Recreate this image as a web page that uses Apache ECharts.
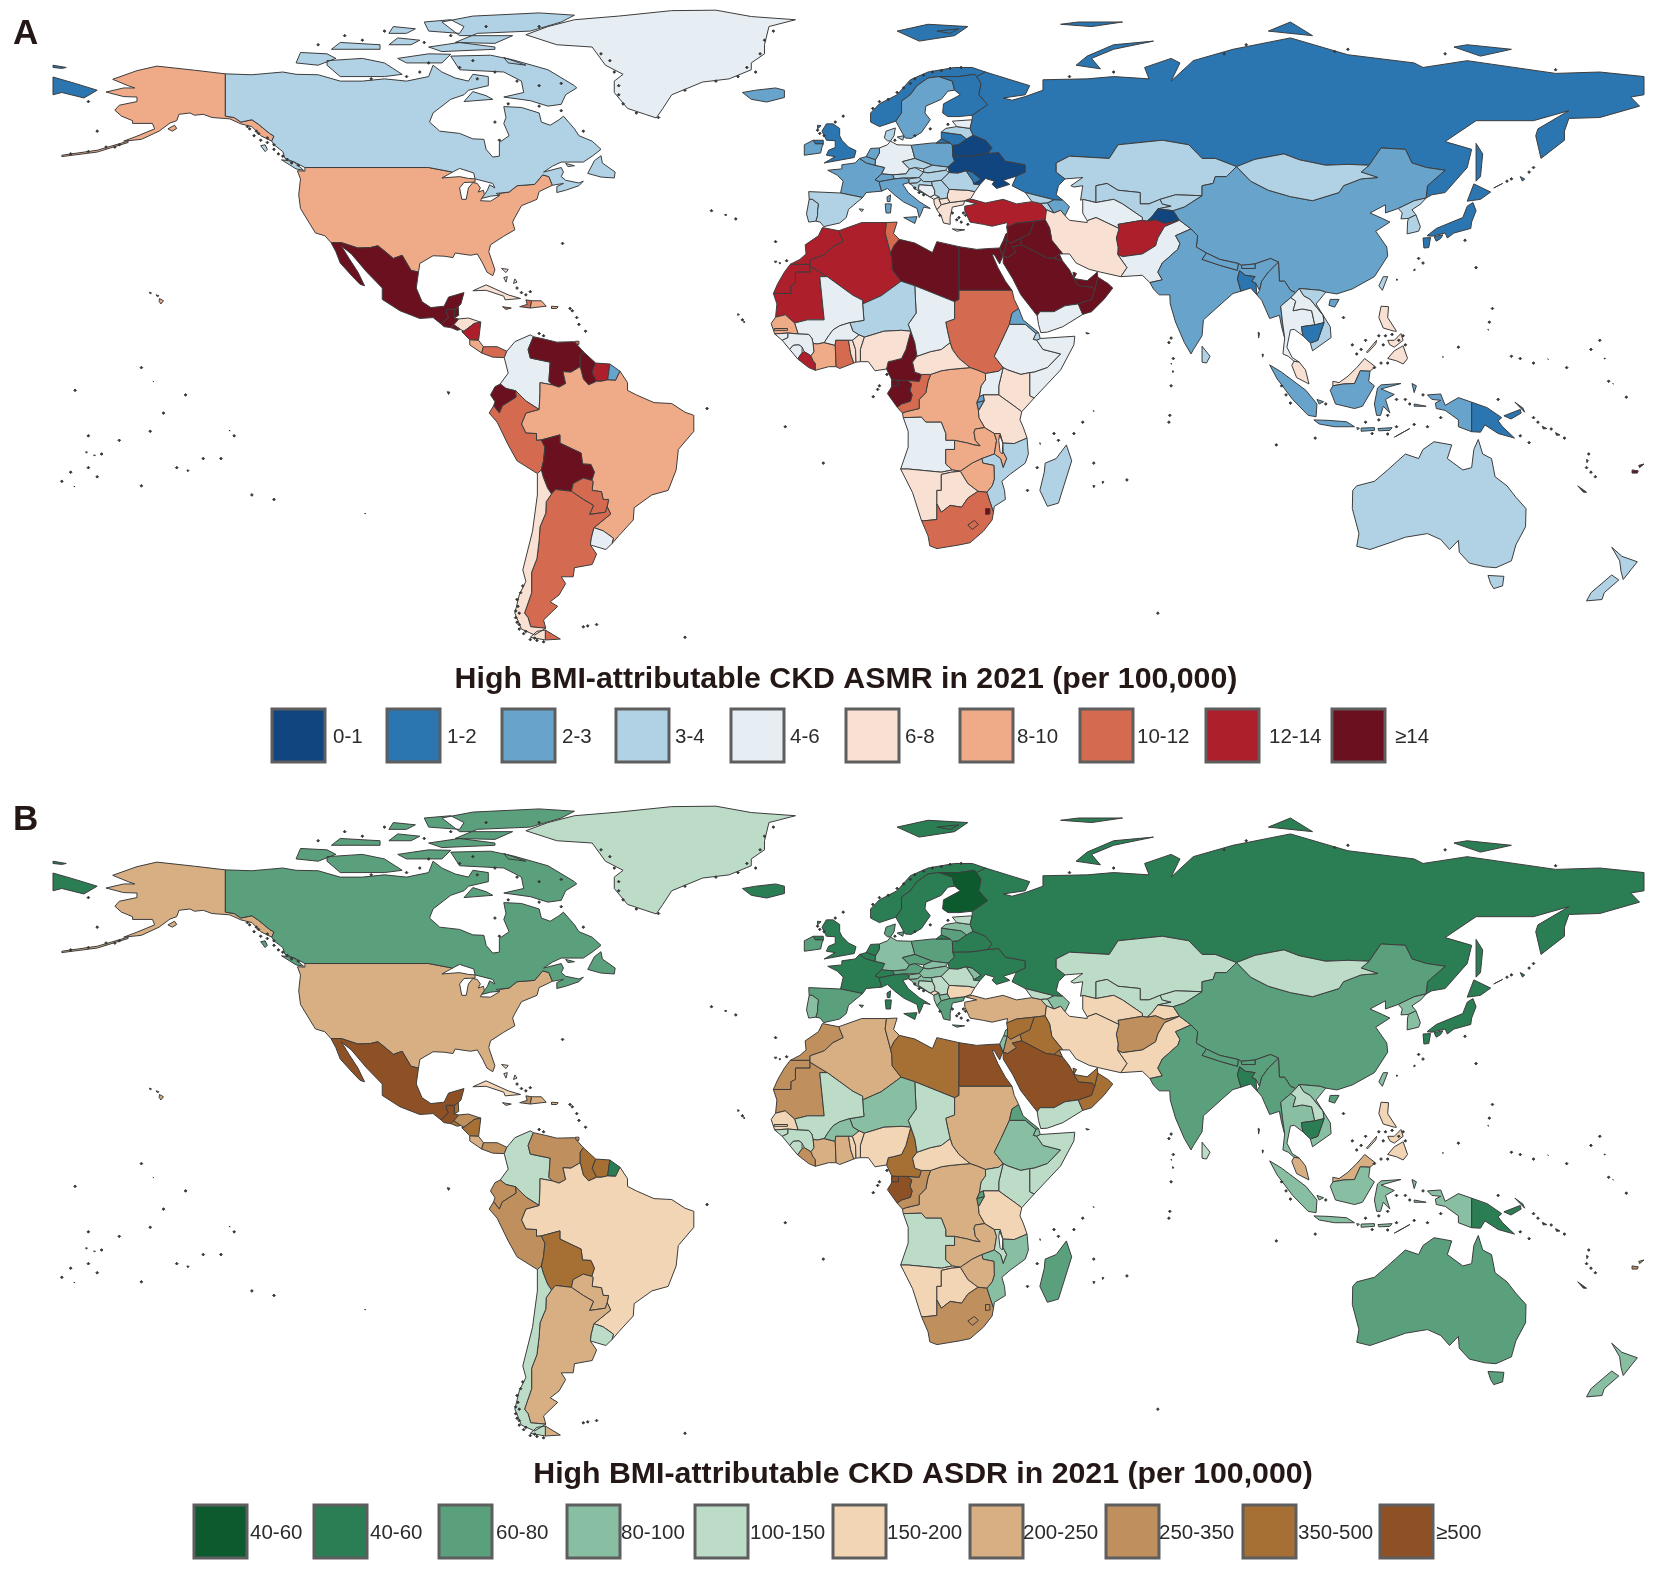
<!DOCTYPE html>
<html>
<head>
<meta charset="utf-8">
<title>High BMI-attributable CKD</title>
<script src="https://cdn.jsdelivr.net/npm/echarts@6/dist/echarts.min.js"></script>
<style>
html,body{margin:0;padding:0;background:#fff}
#chart{width:1654px;height:1571px}
</style>
</head>
<body>
<div id="chart"></div>
<script>
// country list, same order in both class arrays below
var countries = [
	"United States","Canada","Greenland","Mexico","Guatemala","Belize","Honduras","El Salvador","Nicaragua","Costa Rica","Panama","Cuba","Haiti","Dominican Republic","Jamaica","Puerto Rico","Bahamas","Trinidad and Tobago",
	"Colombia","Venezuela","Guyana","Suriname","French Guiana","Brazil","Ecuador","Peru","Bolivia","Paraguay","Argentina","Uruguay","Chile",
	"Iceland","Norway","Sweden","Finland","Denmark","United Kingdom","Ireland","France","Spain","Portugal","Germany","Netherlands","Belgium","Switzerland","Austria","Italy","Poland","Czechia","Slovakia","Hungary","Slovenia","Croatia","Bosnia","Serbia","Montenegro","Albania","North Macedonia","Greece","Bulgaria","Romania","Moldova","Ukraine","Belarus","Lithuania","Latvia","Estonia","Russia",
	"Turkey","Georgia","Armenia","Azerbaijan","Kazakhstan","Uzbekistan","Turkmenistan","Kyrgyzstan","Tajikistan","Afghanistan","Pakistan","Iran","Iraq","Syria","Lebanon","Israel","Jordan","Saudi Arabia","Yemen","Oman","UAE","Kuwait","Qatar",
	"China","Mongolia","North Korea","South Korea","Japan","Taiwan","India","Nepal","Bhutan","Bangladesh","Sri Lanka","Myanmar","Thailand","Laos","Vietnam","Cambodia","Malaysia","Indonesia","Philippines","Papua New Guinea","Australia","New Zealand","Fiji",
	"Morocco","Western Sahara","Mauritania","Algeria","Tunisia","Libya","Egypt","Sudan","Eritrea","Djibouti","Ethiopia","Somalia","Kenya","Uganda","Tanzania","Rwanda","Burundi","DR Congo","Congo","Gabon","Equatorial Guinea","Cameroon","Central African Republic","Chad","Niger","Mali","Senegal","Gambia","Guinea-Bissau","Guinea","Sierra Leone","Liberia","Cote d'Ivoire","Burkina Faso","Ghana","Togo","Benin","Nigeria","Angola","Zambia","Malawi","Mozambique","Zimbabwe","Namibia","Botswana","South Africa","Lesotho","Eswatini","Madagascar"
];

// legend class of each country
var asmrClass = [
	6,3,4,9,9,9,5,9,8,6,7,5,7,6,7,6,5,7,
	4,9,9,8,2,6,9,7,9,7,7,4,5,
	2,1,2,1,3,1,2,2,3,3,4,2,2,2,3,2,2,3,3,3,3,3,4,3,4,5,5,5,5,3,1,0,0,1,3,4,1,
	8,3,3,2,3,3,4,3,0,8,4,5,9,9,9,9,9,9,4,9,9,9,9,
	2,3,3,3,1,3,2,2,2,1,3,2,4,4,3,1,5,2,5,1,3,3,9,
	8,8,8,8,7,9,9,7,2,3,4,4,5,4,5,2,2,6,7,9,9,9,5,4,3,4,6,6,4,4,4,8,6,4,7,5,5,5,4,6,6,3,6,5,5,7,7,9,3
];

// legend class of each country
var asdrClass = [
	6,2,4,9,9,8,7,8,8,6,7,5,7,6,6,6,5,7,
	4,7,8,8,1,5,7,7,8,6,6,4,4,
	1,1,1,0,2,1,2,1,2,3,3,1,1,1,2,1,2,2,3,3,3,3,4,4,5,3,3,2,5,4,3,1,1,2,3,4,1,
	6,4,4,3,4,4,5,4,5,7,5,5,8,8,3,3,7,9,4,8,8,8,8,
	2,4,3,3,1,3,2,2,2,1,4,2,3,4,3,1,6,3,5,1,2,3,7,
	7,7,7,6,6,8,9,6,2,3,3,4,4,4,5,2,2,6,7,9,9,8,5,4,3,4,5,5,4,4,4,7,6,3,6,5,5,5,4,6,4,3,6,5,5,7,7,7,2
];

var asmrLabels = ["0-1","1-2","2-3","3-4","4-6","6-8","8-10","10-12","12-14","≥14"];
var asdrLabels = ["40-60","40-60","60-80","80-100","100-150","150-200","200-250","250-350","350-500","≥500"];
var asmrColors = ["#11457f","#2b75b0","#67a3ca","#b1d2e5","#e6eef3","#f8e0d3","#efaa88","#d46a50","#ae1f2c","#6a101f"];
var asdrColors = ["#0c5a2e","#2b7d54","#5aa07c","#88bea1","#bddcc8","#f2d5b4","#d7af82","#bf8f5d","#a66f34","#8d5125"];
var speckColor = "#333333";

// hand traced outlines, lon,lat pairs
var outlines = {
	"United States": ["-123,49 -95,49 -89.6,48 -92,46.7 -88,47 -86,46.6 -84.5,46.5 -84.5,45.8 -87,45.7 -88,44.5 -87.5,42 -86.5,42 -86,44.5 -85,45.7 -84,45.5 -83.3,44.5 -83.8,43.6 -82.6,44 -82.4,43 -83,42.2 -83.3,41.7 -81,41.6 -79,42.8 -79,43.3 -76.8,43.6 -75,45 -71,45.3 -69.2,47.4 -67.8,47 -67,45.1 -70,43.7 -70.5,42 -74,40.6 -75.5,38 -76,37 -75.5,35.3 -78,33.9 -81,32 -81.4,30.5 -80,26.5 -80.5,25.2 -81.8,26 -82.8,28 -84,30 -85.5,29.7 -89,30.2 -89.5,29.2 -91.5,29.5 -94,29.6 -97,27.9 -97.3,26 -99,26.4 -101,29.7 -103,29 -104.8,30.5 -106.5,31.8 -108.2,31.4 -111,31.3 -114.8,32.5 -117.1,32.5 -118.5,34 -120.6,34.6 -122,36.8 -124,40 -124.4,43 -124,46.5 -124.7,48.3 -123,48.2",
		"-141,69.6 -148,70.4 -156.5,71.3 -161,70.3 -166.5,68.4 -163,67 -161.5,66.5 -164,66.5 -168,65.6 -164,64.6 -161,64.5 -161,63.5 -165,62.7 -166,61.6 -164.5,60.3 -162,59.3 -162,58.7 -157.5,58.7 -157,57.5 -161,55.9 -164,54.8 -160,55.2 -156,57 -153.5,58.8 -152,59.3 -151.5,60.7 -149,61 -148,60.5 -146,60.7 -144,60 -140,59.7 -137.5,58.6 -135,58 -133,56 -130.5,54.8 -130,55.9 -131,56.5 -133.5,58.5 -135,59.5 -137.5,59 -139,60 -141,60.3",
		"-163,54.8 -170,52.8 -178,51.7 -178,51.4 -170,52.4 -163,54.5","-152.5,58.3 -154,57.5 -153,57 -152,57.6","-155.9,20.2 -155,19.7 -155.6,19 -156,19.6","-158.2,21.6 -157.7,21.4 -158,21.2","-156.7,21 -156,20.8 -156.4,20.6"],
	"Canada": ["-141,69.6 -135,69.4 -128,70 -125,69.5 -120,69.4 -115,68 -110,68 -105,68.5 -100,68 -95,69 -94,71.5 -92,70 -89,68.7 -86,68 -85,69.5 -81.5,69 -81.5,67 -86,66 -87,65 -90,64 -94,61 -94.8,59 -92.5,57 -88,56.5 -85,55.3 -82.5,55.2 -82,53 -80.5,51.3 -79,51.5 -79,54.5 -76.8,56 -78,58.7 -77.5,60 -78,62.4 -74,62.2 -70,61 -69.5,59 -67.5,58.3 -65.5,59.5 -64.5,60.3 -62,57.5 -61,56 -58,54.8 -56,53 -58,51.5 -60,50.2 -65,50.2 -67,49.3 -69,48 -65,49 -64.5,48 -65,47 -64,46.2 -61,45.6 -60,46 -61,45 -64,44 -66,43.5 -66,44.8 -64.5,45.5 -67,45.1 -67.8,47 -69.2,47.4 -71,45.3 -75,45 -76.8,43.6 -79.7,43.3 -79,42.9 -81,42.7 -83,42.2 -82.4,43 -81.7,44 -81.2,45.2 -80,44.5 -80.5,45.5 -84.5,46.5 -84.8,47.8 -88,48.8 -89.6,48 -95,49 -123,49 -125,50 -127.5,51 -128,52.5 -130,54 -130.5,54.8 -130,55.9 -131,56.5 -133.5,58.5 -135,59.5 -137.5,59 -139,60 -141,60.3",
		"-123.3,48.4 -125,48.7 -128.3,50.7 -125.5,50.3","-132,54 -131.5,53 -132,52.5 -133,53.8","-61.5,66.5 -64,65 -65,62.9 -68,62.5 -72,63.7 -78,64.5 -73.5,65.5 -74,68 -78,70 -88,70.5 -90,73.5 -81,73.7 -76,72.7 -68,70.5 -62,67",
		"-105,69 -115,69 -118,71.5 -118,72.5 -110,73 -105,72 -101,69.5","-116,73 -120,71.5 -125,72 -124,74.3 -118,74","-62,82.5 -70,83 -85,82.3 -92,81 -88,78 -76,78 -80,76.3 -89,76.5 -84,78.5 -72,79 -65,81","-80,75 -92,74.5 -95,75.5 -88,76.5 -80,75.5","-106,75 -117,75 -115,76.5 -106,76","-88,78.5 -95,79 -96,81 -90,81.5 -87,80","-92,72 -100,72 -102,73 -95,74 -90,73.9","-80.5,64 -87,63.5 -85,65.7 -82,64.8","-59,47.7 -56,46.9 -53,46.7 -52.8,48 -55.7,50 -56,51.6 -57.5,50.5","-99,76 -104,76 -102,77.5 -97,77","-100,78.5 -104,78.5 -103,80 -98,79.5","-64,49.9 -62,49.4 -63.5,49.2","-78,73.2 -73,71.5 -77,72"],
	"Greenland": ["-73,78.2 -68,80 -62,81.5 -52,82.3 -40,83.5 -30,83.6 -22,82.2 -12,81.5 -18,80 -19,76 -19,74 -22,72 -22,70.5 -27,68.5 -33,67.8 -40,65 -42,62 -43.5,59.9 -46,60.7 -50,62 -53,65.5 -53,68 -51,69.5 -55,71.5 -58,75.5 -66,76"],
	"Mexico": ["-117.1,32.5 -114.8,32.5 -111,31.3 -108.2,31.4 -106.5,31.8 -104.8,30.5 -103,29 -101,29.7 -99,26.4 -97.3,26 -97.8,22.5 -96.5,19.5 -94.5,18.2 -91.5,18.5 -90.5,20.5 -87,21.5 -87.7,19 -88.3,18.4 -89.15,17.8 -90.98,17.8 -91,17.25 -90.5,16.1 -92.2,14.6 -94,16 -97,15.8 -101.5,17.5 -105.5,20 -105.5,22.5 -109,26 -112.5,30 -114.7,31.7 -113,29 -111,26 -109.5,23 -110.5,23.3 -112.2,25 -115,28 -116,30.5"],
	"Guatemala": ["-92.2,14.6 -90.5,16.1 -91,17.25 -90.98,17.8 -89.15,17.8 -89.2,15.9 -88.2,15.7 -89.3,14.4 -90,13.8 -91.5,14"],
	"Belize": ["-89.15,17.8 -88.3,18.4 -88.2,16.5 -89.2,15.9"],
	"Honduras": ["-88.2,15.7 -86,15.9 -83.2,15 -84.7,14.7 -87,13 -87.8,13.4 -89.3,14.4"],
	"El Salvador": ["-90,13.8 -89.3,14.4 -87.8,13.4 -88.5,13.2"],
	"Nicaragua": ["-83.2,15 -83.7,11 -85.7,11.1 -87.5,12.9 -87,13 -84.7,14.7"],
	"Costa Rica": ["-83.7,11 -82.6,9.6 -83,8.2 -85.7,10 -85.7,11.1"],
	"Panama": ["-82.6,9.6 -79.5,9.6 -77.3,8.6 -77.9,7.2 -80.5,7.3 -83,8.2"],
	"Cuba": ["-85,21.9 -82,23.2 -77,21 -74.2,20.2 -77.7,19.9 -78,20.7 -82,22"],
	"Haiti": ["-74.4,18.4 -72,18.1 -71.7,19.7 -73,19.9 -72.7,18.9"],
	"Dominican Republic": ["-71.7,19.7 -72,18.1 -68.4,18.5 -69.5,19.7"],
	"Jamaica": ["-78.3,18.4 -76.3,18.1 -77.5,17.8"],
	"Puerto Rico": ["-67.2,18.5 -65.7,18.4 -66,18 -67.2,18"],
	"Bahamas": ["-78.5,26.8 -77,26.6 -77.5,25.9","-78,24.8 -77.2,25 -77.5,23.8","-75.5,24.5 -75,23.8 -75.8,23.5"],
	"Trinidad and Tobago": ["-61.8,10.8 -61,10.8 -61,10.1 -61.8,10.1"],
	"Colombia": ["-77.3,8.6 -75.5,10.7 -72,12.2 -71.3,11.8 -72.5,9 -72,7.1 -67.5,6.2 -67.8,2 -67,1.2 -69.8,1.7 -69.8,-0.5 -70,-4.2 -72.9,-2.4 -75.3,-0.1 -77.5,0.4 -78.8,1.4 -77,3.8 -77.9,7.2"],
	"Venezuela": ["-71.3,11.8 -68.5,11.2 -66,10.6 -62,10.7 -60,8.5 -60.7,7.5 -60.7,5.2 -62.8,4 -64.6,4.1 -64,1.5 -65.5,0.7 -67,1.2 -67.8,2 -67.5,6.2 -72,7.1 -72.5,9"],
	"Guyana": ["-60,8.5 -57.2,6 -58,4 -57,2 -58.8,1.2 -60,2.5 -60.7,5.2 -60.7,7.5"],
	"Suriname": ["-57.2,6 -54,5.8 -54.5,2.3 -56,2 -57,2 -58,4"],
	"French Guiana": ["-54,5.8 -51.7,4.2 -52.7,2.2 -54.5,2.3"],
	"Brazil": ["-51.7,4.2 -50,1.7 -50,0 -48,-1 -44,-2.7 -40,-2.9 -37,-4.8 -35,-5.5 -35,-9 -38.5,-13 -39,-17.5 -40.8,-22 -44.5,-23 -48.5,-25.8 -48.7,-28.5 -52,-32 -53.5,-33.7 -53.2,-32.5 -55.5,-30.9 -57.6,-30.2 -53.8,-27.2 -54.6,-25.6 -54.3,-24 -55.5,-24 -55.9,-22.3 -58,-22 -57.8,-20 -58.1,-19.8 -57.5,-18 -58.3,-16.3 -60.2,-16.2 -60.5,-13.8 -65.3,-11.6 -65.3,-9.8 -69.5,-10.9 -70.6,-11 -70.6,-9.5 -73,-9.4 -74,-7.4 -73,-5 -70,-4.2 -69.8,-0.5 -69.8,1.7 -67,1.2 -65.5,0.7 -64,1.5 -64.6,4.1 -62.8,4 -60.7,5.2 -60,2.5 -58.8,1.2 -57,2 -56,2 -54.5,2.3 -52.7,2.2"],
	"Ecuador": ["-78.8,1.4 -77.5,0.4 -75.3,-0.1 -75.2,-1.5 -78.3,-3.4 -79,-5 -80.3,-3.4 -80,-2.5 -81,-1 -80,0.8"],
	"Peru": ["-80.3,-3.4 -79,-5 -78.3,-3.4 -75.2,-1.5 -75.3,-0.1 -72.9,-2.4 -70,-4.2 -73,-5 -74,-7.4 -73,-9.4 -70.6,-9.5 -70.6,-11 -69.5,-10.9 -68.7,-12.5 -69,-15.5 -69.5,-17.5 -70.4,-18.3 -75,-15.5 -77,-12 -79.5,-7 -81.3,-5"],
	"Bolivia": ["-69.5,-10.9 -65.3,-9.8 -65.3,-11.6 -60.5,-13.8 -60.2,-16.2 -58.3,-16.3 -57.5,-18 -58.1,-19.8 -60,-19.3 -62.3,-20.5 -62.7,-22.2 -64.5,-22 -66.3,-21.8 -67.2,-22.8 -68.1,-21.5 -69.1,-19 -69.5,-17.5 -69,-15.5 -68.7,-12.5"],
	"Paraguay": ["-58.1,-19.8 -57.8,-20 -58,-22 -55.9,-22.3 -55.5,-24 -54.3,-24 -54.6,-25.6 -55,-26.8 -58.6,-27.3 -57.7,-25.3 -60,-24 -62.7,-22.2 -62.3,-20.5 -60,-19.3"],
	"Argentina": ["-66.3,-21.8 -64.5,-22 -62.7,-22.2 -60,-24 -57.7,-25.3 -58.6,-27.3 -55,-26.8 -54.6,-25.6 -53.8,-27.2 -57.6,-30.2 -58.2,-32.5 -58.4,-34 -57,-36 -58,-38.3 -62,-39 -62.3,-41 -65,-41 -64,-42.5 -65.5,-45 -67.5,-46.5 -65.8,-47.5 -69,-50.5 -68.5,-52.3 -71.9,-52 -72.5,-50 -73.3,-49 -71.7,-44.5 -71.7,-40 -70.5,-37 -70,-33 -69.8,-30 -68.5,-27 -68.4,-24.5 -67.2,-22.8",
		"-68.6,-52.7 -65.2,-54.7 -68.6,-54.9"],
	"Uruguay": ["-57.6,-30.2 -55.5,-30.9 -53.2,-32.5 -53.5,-33.7 -54.9,-35 -58.4,-34 -58.2,-32.5"],
	"Chile": ["-69.5,-17.5 -69.1,-19 -68.1,-21.5 -67.2,-22.8 -68.4,-24.5 -68.5,-27 -69.8,-30 -70,-33 -70.5,-37 -71.7,-40 -71.7,-44.5 -73.3,-49 -72.5,-50 -71.9,-52 -68.5,-52.3 -71,-53.8 -74,-52.5 -75.5,-49 -74.5,-45 -73,-42 -73.7,-39.5 -71.5,-31 -70.4,-23 -70.4,-18.3",
		"-68.6,-52.7 -68.6,-54.9 -72,-54.3 -70.5,-53"],
	"Iceland": ["-24,65.5 -22,64 -18.5,63.4 -14.5,64.4 -14.5,66 -16.5,66.5 -21,66"],
	"Norway": ["5,59 7,58 10.7,59.2 12,61 12,63.6 14,65 15.5,67 18,68.7 20.5,69 25,69 28.5,69.5 29,69 31,70 28,71 24,71 18,70 14,68.3 11,65 7,63 5,61",
		"11,79 16,76.8 24,78 27,80 18,80.5","20,79 23,78.5 25,79.5"],
	"Sweden": ["10.7,59.2 12.8,55.5 14.2,55.4 16.5,56.7 18.5,59.5 17.3,61 17.5,62.5 21,64 22.5,65.8 24,66 23.5,68 20.5,69 18,68.7 15.5,67 14,65 12,63.6 12,61"],
	"Finland": ["22.5,60.2 25,60.2 28,60.5 31.5,62.8 29.5,65 30,67.5 29,69 28.5,69.5 25,69 20.5,69 23.5,68 24,66 25.3,65 21.5,63 21.3,61"],
	"Denmark": ["8.1,55.5 8.5,57 10.6,57.7 10.3,56 9.5,54.8 8.8,54.9","11,55.7 12.5,56 12.3,55"],
	"United Kingdom": ["-5.5,50 1.3,51.2 1.7,52.7 0,53.5 -1.5,55 -2,56 -2,57.6 -3.5,58.6 -5,58.6 -6,57 -5,55 -3,54.9 -3,53.4 -4.5,52.8 -5,51.7 -3,51.4","-8,55 -5.7,55 -5.7,54.2 -7.5,54.2","-7,58.3 -6.2,58.2 -7,57.5"],
	"Ireland": ["-10,51.7 -6.3,52.2 -6,53.5 -5.7,54.2 -7.5,54.2 -8,55 -8.2,55.2 -10,54"],
	"France": ["-1.8,43.4 3.2,42.4 4,43.5 7.5,43.8 7,45.5 7,45.9 6,46.3 7.5,47.6 8.2,49 6,49.5 4,50 2.5,51 1.5,50 -1.5,49.6 -1.5,48.7 -4.7,48.4 -2.5,47.3 -1.2,46","8.7,42.5 9.5,43 9.4,41.5 8.8,41.5"],
	"Spain": ["-9,43.7 -1.8,43.4 3.2,42.4 0,39.8 -0.5,38 -2,36.8 -5.6,36 -6.4,37 -7.4,37.2 -7,38.5 -7,39.7 -6.8,41 -8.2,42 -8.9,42","2.4,39.9 3.4,39.8 3,39.3"],
	"Portugal": ["-8.9,42 -8.2,42 -6.8,41 -7,39.7 -7,38.5 -7.4,37.2 -9,37 -9.5,38.8"],
	"Germany": ["7,53.3 7,52.2 6.1,50.7 6,49.5 8.2,49 7.5,47.6 10,47.4 13,47.6 13.8,48.7 12.2,50.3 15,51 14.6,52.5 14.2,53.9 11,54 9.5,54.8 8.8,54"],
	"Netherlands": ["4,51.4 6.1,50.7 7,52.2 7,53.3 5,53.2"],
	"Belgium": ["2.5,51 4,50 6,49.5 6.1,50.7 4,51.4"],
	"Switzerland": ["6,46.3 7,45.9 10.4,46.5 10,47.4 7.5,47.6"],
	"Austria": ["10,47.4 10.4,46.5 12.5,46.7 16,46.8 17,48 15,49 13.8,48.7 13,47.6"],
	"Italy": ["7.5,43.8 8.8,44.4 10.5,42.9 12.5,41.4 15.5,40 16,38 16.5,39 17,40.3 18.5,40 16,41.5 13.5,43.5 12.3,45.3 13.7,45.7 13.7,46.5 12.5,46.7 10.4,46.5 7,45.9 7,45.5","12.5,38 15.5,38.2 15,36.7","8.3,41 9.7,41 9.5,39 8.5,39"],
	"Poland": ["14.2,53.9 19,54.4 23,54.4 23.5,53.9 23.6,51.5 24,50.4 22.5,49.1 19,49.5 15,51 14.6,52.5"],
	"Czechia": ["12.2,50.3 15,51 19,49.5 17,48.7 15,49 13.8,48.7"],
	"Slovakia": ["17,48.7 19,49.5 22.5,49.1 22,48.4 18,47.8 17,48"],
	"Hungary": ["16,46.8 17,48 18,47.8 22,48.4 22.8,47.9 21,46.2 18.8,45.9 17,45.9 16.5,46.3"],
	"Slovenia": ["13.7,45.5 13.7,46.5 16,46.8 16.5,46.3 15.5,45.6"],
	"Croatia": ["13.7,45.5 15.5,45.6 16.5,46.3 17,45.9 18.8,45.9 19,45 16,45.2 15.8,44.2 18.5,42.5 15,44.3 14.3,45.2"],
	"Bosnia": ["16,45.2 19,45 19.5,44 19.5,43 18.5,42.5 15.8,44.2"],
	"Serbia": ["18.8,45.9 21,46.2 22.8,44.2 22.4,43 22.4,42.3 20.5,42 20.5,42.5 19.5,43 19.5,44 19,45"],
	"Montenegro": ["18.5,42.5 19.5,43 20.5,42.5 19.3,42"],
	"Albania": ["19.3,42 20.5,42.5 20.5,42 21,40.8 20,39.7 19.4,41"],
	"North Macedonia": ["20.5,42 22.4,42.3 23,41.3 21,40.8"],
	"Greece": ["20,39.7 21,40.8 23,41.3 26.3,41.7 26,40.8 23.5,40.3 23,38 23,36.5 21.5,36.8 21,38.3","23.5,35.5 26.3,35.3 24.5,35"],
	"Bulgaria": ["22.4,42.3 22.4,43 22.8,44.2 27,44 28.6,43.7 27.7,42.2 26.3,41.7 23,41.3"],
	"Romania": ["21,46.2 22.8,47.9 24.8,47.8 26.6,48.3 28.2,46 28.3,45.4 29.7,45.2 28.6,43.7 27,44 22.8,44.2"],
	"Moldova": ["26.6,48.3 28,48 30,46.4 28.3,45.4 28.2,46"],
	"Ukraine": ["22.5,49.1 22.8,47.9 24.8,47.8 26.6,48.3 28,48 30,46.4 28.3,45.4 29.7,45.2 31,46.6 33,46 32.5,45.3 33.5,44.4 36.5,45.3 35,46.2 38,47.1 40,48 40,49.6 35.5,50.4 34,52.3 31.5,52.1 28,51.6 23.6,51.5 24,50.4"],
	"Belarus": ["24.8,54 26.7,55.3 28.2,56.1 31,55 32.5,53.3 31.5,52.1 28,51.6 23.6,51.5 23.5,53.9"],
	"Lithuania": ["21,56.8 25.5,56.2 26.7,55.3 24.8,54 23.5,53.9 23,54.4 21,55.3"],
	"Latvia": ["21,56.8 22,57.6 24.5,58 27.5,57.6 28.2,56.1 26.7,55.3 25.5,56.2"],
	"Estonia": ["23.5,59.2 28,59.5 27.5,57.6 24.5,58"],
	"Russia": ["28,60.5 31.5,62.8 29.5,65 30,67.5 29,69 31,70 33,69.4 41,67 40,65 35,64.3 37,63.8 40,64.6 44,66 44,68.3 54,68.5 60,69 68,68.5 67,71 73,73 75,72 73,68 78,72.5 87,75 100,77.5 113,73.8 128,72 130,71 140,72.5 160,69.7 170,70 180,69 180,65 177,64.5 179,62.5 170,60 163,59.8 162,57 162,55 156.7,51 155.5,56 156,57.5 163,61.5 155,59.3 142,59.3 135,54.7 141,53 140,49 135,43.5 132,43 130.7,42.3 131,45 135,48.4 130.8,49 127.5,50 126,53 120.5,53.3 117.8,49.5 113,49.7 108,49.5 102,50.7 98.5,52 92,50.8 87.8,49.2 83,51 80,51 77,54 71,55 61,54 59,51 50,51.5 47,50 47,48 49,46.5 47.5,45 47,43 48.5,41.8 46.5,41.9 40,43.5 37,45 38,47.1 40,48 40,49.6 35.5,50.4 34,52.3 31.5,52.1 32.5,53.3 31,55 28.2,56.1 27.5,57.6 28,59.5",
		"-180,68.9 -175,67.5 -170,66 -173,64.3 -178,65.5 -180,65","19.8,54.4 23,54.4 21,55.3","51.5,71.5 57,70.7 55,73 60,75 69,76.8 60,76 54,73.5","142,54.3 143.5,52 143,47 142,46 142,50","95,79 105,78 100,81","137,75.5 143,73.5 150,75 140,76","48,80.5 55,80 62,81 52,81","-180,71.5 -177,71 -178,70.8 -180,71",
		"146,44.5 148,45.5 147,45","152,47 153,46.5 152.5,46"],
	"Turkey": ["26.3,41.7 28,42 31,41.2 35,42 38,41 41.5,41.5 43.5,41.1 44.8,39.7 44.5,37.5 42,37.2 38,36.8 35.8,35.9 36,36.9 32.5,36.1 30.5,36.5 27.5,37 26.3,39.5 26.3,40.5 29,41"],
	"Georgia": ["40,43.5 46.5,41.9 45,41.2 43.5,41.1 41.5,41.5"],
	"Armenia": ["43.5,41.1 45,41.2 46.5,39 44.8,39.7"],
	"Azerbaijan": ["46.5,41.9 48.5,41.8 50,40.4 49,38.4 48,39.6 46.5,39 45,41.2"],
	"Kazakhstan": ["47,50 50,51.5 59,51 61,54 71,55 77,54 80,51 83,51 87.8,49.2 85.5,47 83,47 82.5,45.5 80,45 80,42.8 74,43 70.5,42 68,41 66,41 66,43.5 61,44 58.5,45.5 56,45 56,41.3 53,42 52.5,41.8 53,45 51,44.7 50.3,45 53,46.8 49,46.5 47,48"],
	"Uzbekistan": ["56,45 58.5,45.5 61,44 66,43.5 66,41 68,41 70.5,42 71,41 73,40.5 70,39.9 68.5,38 67.5,37.2 66.5,37.4 66.5,38 62,41 60,42 56,41.3"],
	"Turkmenistan": ["53,42 56,41.3 60,42 62,41 66.5,38 66.5,37.4 61,36.5 61.2,35.6 56,38 54,37.3 53,39 53,41"],
	"Kyrgyzstan": ["70.5,42 74,43 80,42.8 76,40.3 73.5,39.5 70,39.9 73,40.5 71,41"],
	"Tajikistan": ["67.5,37.2 68.5,38 70,39.9 73.5,39.5 74.9,37.4 71.5,36.7 69.5,37.5"],
	"Afghanistan": ["61,36.5 66.5,37.4 67.5,37.2 69.5,37.5 71.5,36.7 74.9,37.4 71.5,36 70,33.5 69.5,31.8 66.5,30 62,29.4 60.9,29.9 61,31.4 60.6,33.5 61.2,35.6"],
	"Pakistan": ["60.9,29.9 62,29.4 66.5,30 69.5,31.8 70,33.5 71.5,36 74.9,37.4 77.5,35.5 74,34 75,32.3 74.5,31 71,28 70,26 71,24.3 68.2,23.7 66.5,25.3 61.6,25 63,27"],
	"Iran": ["44.8,39.7 46.5,39 48,39.6 49,38.4 50,37.4 54,36.9 54,37.3 56,38 61.2,35.6 60.6,33.5 61,31.4 60.9,29.9 63,27 61.6,25 57,26 54.5,26.6 51.5,28 50,30 48.5,30 46,33 45.5,35.7 44.5,37.5"],
	"Iraq": ["42,37.2 44.5,37.5 45.5,35.7 46,33 48.5,30 47.7,30 46.5,29 44.7,29.2 39.2,32 38.8,33.4 41,34.4"],
	"Syria": ["35.8,35.9 38,36.8 42,37.2 41,34.4 38.8,33.4 36.7,32.3 35.9,33 36,34.6"],
	"Lebanon": ["36,34.6 35.9,33 35.1,33.1 35.6,34.4"],
	"Israel": ["35.1,33.1 35.9,33 35.4,31 35,29.5 34.2,31.3"],
	"Jordan": ["35.9,33 36.7,32.3 38.8,33.4 39.2,32 37,31.5 38,30.5 36,29.2 35,29.5 35.4,31"],
	"Saudi Arabia": ["35,29.5 36,29.2 38,30.5 37,31.5 39.2,32 44.7,29.2 46.5,29 48.4,28.5 50,26.5 51,24.6 52,23 55.2,22.7 55.7,22 55,20 52,19 49,18.6 46.5,17.3 43.3,17.3 42.7,16.4 39,21 37.2,24.5 35,28"],
	"Yemen": ["42.7,16.4 43.3,17.3 46.5,17.3 49,18.6 52,19 53,16.7 48.5,14 45,12.8 43.5,12.7 43,14.5"],
	"Oman": ["52,19 55,20 55.7,22 56.4,24.9 58.7,23.5 59.8,22.5 57.8,20 55,17.3 53,16.7"],
	"UAE": ["51,24.6 54,24.1 56.3,26 56.4,24.9 55.7,22 55.2,22.7 52,23"],
	"Kuwait": ["47.7,30 48.4,28.5 46.5,29"],
	"Qatar": ["51,24.6 50.8,26 51.6,25.7"],
	"China": ["73.5,39.5 76,40.3 80,42.8 80,45 82.5,45.5 83,47 85.5,47 87.8,49.2 91,46 95,44 100,42.6 105,41.7 111,43.5 112,45 116,46.5 119.8,46.8 116,48 117.8,49.5 120.5,53.3 126,53 127.5,50 130.8,49 135,48.4 131,45 130.7,42.3 128,41.7 124.4,40 121.5,39 121.5,40.8 118,39 120.8,37.8 122.5,37 119.3,35 121.8,31.5 122,29.5 119,25 114,22.3 110.5,21.2 108,21.6 106.7,22 102,22.4 101.2,21.5 100,22 98.7,24 97.5,24 97.3,28.2 95.5,29 92,27.8 88.9,27.5 88.2,27.9 84,28.8 81,30.2 78.7,31.5 79,34 77.5,35.5 74.9,37.4",
		"109,20 111,20 110,18.3 108.7,18.7"],
	"Mongolia": ["87.8,49.2 92,50.8 98.5,52 102,50.7 108,49.5 113,49.7 117.8,49.5 116,48 119.8,46.8 116,46.5 112,45 111,43.5 105,41.7 100,42.6 95,44 91,46"],
	"North Korea": ["124.4,40 128,41.7 130.7,42.3 129.5,41 127.5,39.7 128.4,38.6 126.7,37.8 125,37.7 125.3,39"],
	"South Korea": ["126.7,37.8 128.4,38.6 129.4,36 129,35 126.4,34.4 126.5,37"],
	"Japan": ["130.9,34 133,35.6 136.5,37 139,38 140,40.5 141.3,41.3 142,39.5 141,37 140.8,35.6 137,34.6 135.5,33.5 135,34.6 132,33.9","140,41.6 141.5,45.4 145.3,43.6 143,42","130,33.5 131.7,33.6 131.3,31.4 130.2,31.3","132.5,33.8 134.5,34.2 134,33.4 133,32.8"],
	"Taiwan": ["121,25 122,25 120.8,22 120,23"],
	"India": ["68.2,23.7 71,24.3 70,26 71,28 74.5,31 75,32.3 74,34 77.5,35.5 79,34 78.7,31.5 81,30.2 80,28.8 84,27.5 88,26.4 88.2,27.9 88.9,27.5 89,26.8 92,26.8 92,27.8 95.5,29 97.3,28.2 95,26 93.5,24 93,22 92.2,23.5 91.2,24 92,25 89.8,25.3 88.5,26.3 88,24.5 88.8,21.8 87,21.3 85,19.6 80.3,15.5 80,12 78,8.9 77.5,8 76,10.5 74,15 72.8,19 72.7,21 70.3,21 69,22.3"],
	"Nepal": ["80,28.8 81,30.2 84,28.8 88.2,27.9 88,26.4 84,27.5"],
	"Bhutan": ["89,26.8 88.9,27.5 92,27.8 92,26.8"],
	"Bangladesh": ["88,24.5 88.5,26.3 89.8,25.3 92,25 91.2,24 92.2,23.5 92.4,21 91,22.5 88.8,21.8"],
	"Sri Lanka": ["80,9.7 81.8,7.5 81,6 80,6.2"],
	"Myanmar": ["92.4,21 93,22 93.5,24 95,26 97.3,28.2 97.5,24 98.7,24 100,22 101.2,21.5 100.1,20.4 97.8,18.5 98.2,15 98.7,11.5 98,14 97.5,16.5 95.3,15.8 94.3,18 93.5,19.8"],
	"Thailand": ["97.8,18.5 100.1,20.4 101.2,19.6 100.6,17.5 102.7,17.9 104.8,17.5 105.5,14.4 102.5,14 102.8,12 100.9,13.4 100,13.3 99.2,9.5 100.4,7.2 102,6.2 100.8,6.4 99.5,7.5 98.3,8 98.7,11.5 98.2,15"],
	"Laos": ["100.1,20.4 101.2,21.5 102,22.4 103,20.8 104.5,20 107.4,16.5 107.6,14.9 105.5,14.4 104.8,17.5 102.7,17.9 100.6,17.5 101.2,19.6"],
	"Vietnam": ["102,22.4 106.7,22 108,21.6 105.8,19 109,14 109.2,11.6 105,8.7 104.5,10.4 106.2,11 107.6,14.9 107.4,16.5 104.5,20 103,20.8"],
	"Cambodia": ["102.8,12 102.5,14 105.5,14.4 107.6,14.9 106.2,11 104.5,10.4"],
	"Malaysia": ["100.8,6.4 102,6.2 103.4,4.5 104.2,1.4 101.4,2.8 100.3,5.5","109.6,2 111,1.7 113,3.1 115,5 116.8,7 119.2,5.2 118,4.2 115.8,4.3 114.5,1.5 112,1.4 109.6,1"],
	"Indonesia": ["109.6,1 112,1.4 114.5,1.5 115.8,4.3 118,4.2 117.7,2 119,1 116.3,-3.5 114.5,-4 110.2,-3 109,0","95.3,5.6 98,4 103.5,0 106,-3 105.8,-5.8 104,-5.5 100.5,-2 97,2.5","105.3,-6.5 108.5,-6.6 112.7,-6.9 114.5,-8 110,-8 106.5,-7.4","119.5,-5.5 119,-3 119.7,0.5 120.5,1.2 125,1.5 120.5,0.3 123.5,-0.9 121.5,-2 122.5,-5 121,-3.5 120.4,-5.5","116,-8.3 119,-8.2 119,-8.8 116,-9","119.8,-8.4 123,-8.2 122.5,-8.8 120,-8.9","123.5,-10.3 127,-8.4 125,-9.5","131,-1 134,-0.8 135,-3.3 138,-1.6 141,-2.6 141,-9.1 138,-8 138,-6.5 135,-4.4 133,-4 132.8,-2.8 134,-2.2 132,-2","127.5,1.5 128.5,1 128,-0.5","128,-3 130.7,-3.5 128,-3.5","115,-8.2 115.6,-8.3 115.2,-8.7","106,-2 107.5,-2.5 106.5,-3"],
	"Philippines": ["120.5,18.5 122.2,18.4 122,16 124,13 123.5,13 121,13.7 120,16","122,7 123.5,8.7 125.5,9.8 126.5,7 125.5,5.8 124,6.5","122,11 123.5,11 125,12.5 125.5,11 123.5,9.5 122.5,10","117.2,8.4 119.5,11 119.3,10.2 117.5,8.3"],
	"Papua New Guinea": ["141,-2.6 144.5,-3.8 147.8,-6 147,-6.7 148,-8 150.7,-10.5 147,-9.5 144,-7.6 143,-9.2 141,-9.1","148.3,-5.6 152,-4.2 152.2,-5 149.9,-6.3","150.8,-2.6 153,-4.8 152.6,-3.9"],
	"Australia": ["114.1,-22 114,-26 115.5,-31.5 115,-34.3 118,-35 124,-33 126,-32.3 131,-31.5 134,-32.8 136,-35 138,-33 138.2,-35.6 140.5,-38 144,-38.8 146.5,-39 150,-37.5 151,-34 153.2,-30 153.3,-26 151,-23.5 149,-21 146.3,-19 145.5,-15 143.5,-14 142.5,-10.8 141.5,-13 141,-17 139,-17.5 135.5,-15 136.5,-12 132.5,-11.3 130,-13 129,-15 126,-14 122,-17.5 119,-20 115,-21","144.7,-40.7 148.3,-40.9 148,-43 146,-43.6 145.3,-42.5"],
	"New Zealand": ["172.7,-34.5 175,-36.5 178.5,-37.7 177,-39.5 175.3,-41.6 174.8,-39.8 174.5,-37.5","172.7,-40.6 174.3,-41.7 171,-44.5 170.5,-46 167,-46.3 168,-44.5"],
	"Fiji": ["177.3,-17.5 178.7,-17.7 178.5,-18.2 177.3,-18.2","178.8,-16.5 180,-16.2 179,-17"],
	"Morocco": ["-5.9,35.8 -2.2,35.1 -1.2,32.7 -3.5,31.6 -5.5,29.8 -8.7,28.7 -8.7,27.7 -13.2,27.7 -11,28.8 -9.6,30 -9.8,32 -6.8,34"],
	"Western Sahara": ["-13.2,27.7 -8.7,27.7 -8.7,26 -12,26 -12,23.5 -13,23 -13,21.3 -17,21.3 -16,23.5 -14.5,26"],
	"Mauritania": ["-8.7,27.3 -4.8,25 -6.5,25 -5.5,15.5 -9.3,15.5 -12.2,14.8 -14.3,16.6 -16.5,16.1 -16.2,19 -17,21.3 -13,21.3 -13,23 -12,23.5 -12,26 -8.7,26"],
	"Algeria": ["-2.2,35.1 3,36.9 8.6,36.9 8.3,34.6 9.5,30.2 9.8,29 9.9,26.5 11.9,24 7.4,20.8 3.2,19 3.2,19.8 1,20.9 -4.8,25 -8.7,27.3 -8.7,28.7 -5.5,29.8 -3.5,31.6 -1.2,32.7"],
	"Tunisia": ["8.6,36.9 11,37 10.2,34.5 11.5,33.2 10.3,31.8 9.5,30.2 8.3,34.6"],
	"Libya": ["11.5,33.2 15,32.4 19,30.3 20,32.7 25,31.6 25,22 25,20 24,19.5 15,23 11.9,24 9.9,26.5 9.8,29 9.5,30.2 10.3,31.8"],
	"Egypt": ["25,31.6 29,31 32,31.2 34.2,31.3 34.9,29.5 34.2,27.8 33,29.8 32.5,29.9 33.8,27 35.5,24 37,22 25,22"],
	"Sudan": ["25,22 37,22 37.5,20 38.5,18 37,17 36.4,14.5 34.5,10.5 33,7.5 35,5 34,4.2 31,3.7 29,4.5 27.5,5 25,7 23.5,9 23,10.5 22.5,12.6 22,15 24,15.7 24,19.5 25,20"],
	"Eritrea": ["38.5,18 39.5,15.5 43,12.7 42.4,12.5 40,14.5 36.4,14.5 37,17"],
	"Djibouti": ["43,12.7 43.4,11.4 42.6,11 41.8,11.2 42.4,12.5"],
	"Ethiopia": ["36.4,14.5 40,14.5 42.4,12.5 41.8,11.2 42.6,11 44,9 48,8 45,5 42,4 41,3.9 39,3.5 36,4.5 35,5 33,7.5 34.5,10.5"],
	"Somalia": ["43.4,11.4 51.2,11.9 51,10 48,4.5 42,-1.7 41,-1.2 41,3.9 42,4 45,5 48,8 44,9 42.6,11"],
	"Kenya": ["41,3.9 41,-1.2 42,-1.7 39.2,-4.7 37.7,-3.6 34,-1 34,1 35,5 36,4.5 39,3.5"],
	"Uganda": ["34,4.2 35,5 34,1 34,-1 30.5,-1 29.6,-1.4 30,1 31,2.3 31,3.7"],
	"Tanzania": ["30.5,-1 34,-1 37.7,-3.6 39.2,-4.7 38.8,-6.5 39.5,-8 40.4,-10.5 37.5,-11.7 34.9,-11.6 34.3,-9.5 33,-9.5 30.8,-8.2 29.5,-6 29.4,-4.5 30.7,-2.3"],
	"Rwanda": ["29.6,-1.4 30.5,-1 30.7,-2.3 29,-2.7"],
	"Burundi": ["29,-2.7 30.7,-2.3 29.4,-4.5"],
	"DR Congo": ["31,3.7 31,2.3 30,1 29.6,-1.4 29,-2.7 29.4,-4.5 29.5,-6 30.8,-8.2 28.7,-8.5 28.4,-9.2 28.7,-11 29.8,-12.2 28.4,-12 27,-11.6 24,-11 22,-11 22,-9.5 21,-7 17.5,-7 16.5,-5.9 12.4,-6 12.2,-5 13,-4.7 16,-4 16,-2 17.5,-0.5 18,2 18.6,3.5 21,4.3 23,4.6 27.5,5 29,4.5"],
	"Congo": ["18.6,3.5 18,2 17.5,-0.5 16,-2 16,-4 13,-4.7 12.2,-5 11,-3.7 12,-3 14,-2.4 14.4,-1 13.9,0 14.3,1.4 13.2,2.2 16,2 16.5,3.5"],
	"Gabon": ["9.8,2.3 11.3,2.2 13.2,2.2 14.3,1.4 13.9,0 14.4,-1 14,-2.4 12,-3 11,-3.7 8.8,-0.7 9.6,0.5 9.8,1"],
	"Equatorial Guinea": ["9.8,2.3 11.3,2.2 11.3,1 9.8,1"],
	"Cameroon": ["8.6,4.7 9.8,2.3 11.3,2.2 13.2,2.2 16,2 16.5,3.5 15,4 14.5,6.2 15.5,7.5 15,10.5 14.1,13 13,9 12,7 10,6.5 9,6.3"],
	"Central African Republic": ["14.5,6.2 15,4 16.5,3.5 18.6,3.5 21,4.3 23,4.6 27.5,5 25,7 23.5,9 23,10.5 21,9 18.5,8.5 15.5,7.5"],
	"Chad": ["24,19.5 24,15.7 22,15 22.5,12.6 23,10.5 21,9 18.5,8.5 15.5,7.5 15,10.5 14.1,13 13.5,14.5 15.3,17 15,23"],
	"Niger": ["15,23 15.3,17 13.5,14.5 14.1,13 12,13.2 8,13 3.6,11.7 2.4,12.2 1,13 0.3,14.9 3.5,15.4 3.2,19 7.4,20.8 11.9,24"],
	"Mali": ["-4.8,25 1,20.9 3.2,19.8 3.2,19 3.5,15.4 0.3,14.9 -2,14.2 -3.5,13.3 -4.5,12 -5.5,10.5 -7,10.2 -8,10.3 -8.3,11.5 -9,12.3 -11.4,12.4 -12.2,14.8 -9.3,15.5 -5.5,15.5 -6.5,25"],
	"Senegal": ["-16.5,16.1 -14.3,16.6 -12.2,14.8 -11.4,12.4 -13.7,12.6 -16.7,12.4 -17.5,14.7"],
	"Gambia": ["-16.8,13.6 -13.8,13.6 -13.8,13.2 -16.8,13.2"],
	"Guinea-Bissau": ["-16.7,12.4 -13.7,12.6 -13.7,11.6 -15,11"],
	"Guinea": ["-13.7,12.6 -11.4,12.4 -9,12.3 -8.3,11.5 -8,10.3 -7.8,8.5 -8.5,7.6 -10,8.5 -10.5,9.5 -11.2,10 -12.5,9.9 -13.3,9 -15,11 -13.7,11.6"],
	"Sierra Leone": ["-13.3,9 -12.5,9.9 -11.2,10 -10.5,9.5 -10.5,8.3 -11.5,6.9"],
	"Liberia": ["-11.5,6.9 -10.5,8.3 -10,8.5 -8.5,7.6 -8,6.5 -7.5,5.9 -7.5,4.4 -9,5"],
	"Cote d'Ivoire": ["-7.5,4.4 -7.5,5.9 -8,6.5 -8.5,7.6 -7.8,8.5 -8,10.3 -7,10.2 -5.5,10.5 -3,9.9 -2.8,5.2 -4.5,5.2"],
	"Burkina Faso": ["-5.5,10.5 -4.5,12 -3.5,13.3 -2,14.2 0.3,14.9 1,13 2.4,12.2 0.9,11 0,11 -2.9,11 -3,9.9"],
	"Ghana": ["-3,9.9 -2.9,11 0,11 0.5,8 1.2,6 -2,4.8 -2.8,5.2"],
	"Togo": ["0,11 0.9,11 1.6,9 1.7,6.2 1.2,6 0.5,8"],
	"Benin": ["0.9,11 2.4,12.2 3.6,11.7 2.7,9 2.7,6.3 1.7,6.2 1.6,9"],
	"Nigeria": ["2.7,6.3 2.7,9 3.6,11.7 8,13 12,13.2 14.1,13 13,9 12,7 10,6.5 9,6.3 8.6,4.7 6,4.3 4.5,6.3"],
	"Angola": ["12.4,-6 16.5,-5.9 17.5,-7 21,-7 22,-9.5 22,-11 24,-11 24,-13 22,-13 22,-16.2 23.5,-17.5 21,-18 13.5,-17.3 11.8,-17.3 13.5,-12.5 13.5,-9"],
	"Zambia": ["22,-13 24,-13 24,-11 27,-11.6 28.4,-12 29.8,-12.2 28.7,-11 28.4,-9.2 28.7,-8.5 30.8,-8.2 33,-9.5 33.5,-11 33,-14 30.2,-15 28,-16 25.3,-17.8 23.5,-17.5 22,-16.2"],
	"Malawi": ["33,-9.5 34.3,-9.5 34.9,-11.6 35,-13.5 35.8,-15 35,-17 34.4,-15 33,-14 33.5,-11"],
	"Mozambique": ["40.4,-10.5 37.5,-11.7 34.9,-11.6 35,-13.5 35.8,-15 35,-17 34.4,-15 33,-14 30.2,-15 30.4,-16 32.9,-16.5 33,-19.5 32.5,-21 31.3,-22.4 32,-24.5 32.8,-26.8 33,-25.5 35.5,-24 35.3,-22 34.7,-20 36.5,-18.5 40,-16 40.7,-14"],
	"Zimbabwe": ["25.3,-17.8 28,-16 30.2,-15 30.4,-16 32.9,-16.5 33,-19.5 32.5,-21 31.3,-22.4 29.3,-22.2 27,-20.5"],
	"Namibia": ["11.8,-17.3 13.5,-17.3 21,-18 23.5,-17.5 25.3,-17.8 23.3,-18 21,-18.5 21,-22 20,-22 20,-28.4 17,-28.7 16.5,-28.6 14.5,-22.5"],
	"Botswana": ["21,-18.5 23.3,-18 25.3,-17.8 27,-20.5 29.3,-22.2 27,-23.7 25.6,-25.7 23,-25.3 21,-26.8 20,-25 20,-22 21,-22"],
	"South Africa": ["16.5,-28.6 17,-28.7 20,-28.4 20,-25 21,-26.8 23,-25.3 25.6,-25.7 27,-23.7 29.3,-22.2 31.3,-22.4 32,-24.5 32.8,-26.8 32.5,-28.5 30.5,-31 27.5,-33.5 25,-34 20,-34.8 18.4,-34.2 18,-32"],
	"Lesotho": ["27,-29.6 28.5,-28.6 29.4,-29.5 28,-30.6"],
	"Eswatini": ["31,-26 32,-26 32,-27.2 31,-27.3"],
	"Madagascar": ["49.3,-12 50.5,-15.5 47.5,-24.8 45,-25.5 43.3,-22 44.3,-18 44.5,-16 47,-15"],
	// lake malawi, unfilled
	"Lakes": ["34.2,-9.8 34.9,-11.6 34.8,-14 34.3,-13.5 34,-11"],
	// small ocean islands and specks, filled dark
	"Specks": ["-90.8,-0.3 -90.2,-0.4 -90.5,-0.9","-25,16.9 -24.7,16.6 -25.1,16.5","-23.7,15.2 -23.4,15 -23.7,14.9","-16.8,28.4 -16.2,28.4 -16.5,28","-15.7,28.1 -15.3,28 -15.6,27.8","-28,38.7 -27.5,38.6 -27.9,38.4","-170.8,-14.2 -170.4,-14.3 -170.7,-14.4","-172.6,-13.5 -172.2,-13.6 -172.5,-13.8","-149.7,-17.5 -149.2,-17.6 -149.5,-17.9","-140.2,-8.8 -139.9,-8.9 -140.1,-9.1","-175.3,-21.1 -175,-21.2 -175.2,-21.4","-157.4,2 -157.2,1.9 -157.4,1.8","-109.5,-27.1 -109.2,-27.1 -109.4,-27.3","160,-9.3 161,-9.8 160.2,-9.9","157,-7.9 158,-8.4 157.2,-8.5","167,-15.2 167.4,-15.4 167.1,-15.9","165,-21 167,-22.4 166.3,-22.4","55.3,-20.9 55.8,-21 55.5,-21.4","57.4,-20 57.8,-20.1 57.5,-20.5","43.3,-11.5 43.5,-11.6 43.4,-11.9","55.3,-4.5 55.6,-4.6 55.4,-4.8","73.3,4.3 73.6,4.2 73.4,3.9","73,6 73.2,5.9 73.1,5.7","92.7,12.8 93,12.6 92.8,11.5","93.6,8 93.9,7.9 93.7,7.3","53.7,12.7 54.5,12.5 53.9,12.4","144.7,13.5 144.9,13.4 144.8,13.2","134.5,7.5 134.7,7.4 134.5,7.2","158.2,6.9 158.4,6.8 158.2,6.7","171,7.1 171.3,7 171,6.9","172.9,1.5 173.1,1.4 172.9,1.3","128,26.7 128.3,26.5 127.9,26.3","124,24.5 124.3,24.3 124,24.2"]
};

// tiny coastal and ocean islands that read as dark specks, lon,lat
var coastSpecks = [
	[-134,57],[-134.5,56],[-133,55],[-131.5,54.5],[-130,53],[-129,52],[-128,51.5],[-127,50.8],[-135.5,57.5],[-136,58],[-126,50],[-124.5,49.5],[-133.5,56.5],[-131.5,55.5],[-130,54],
	[-75,-46],[-74.8,-47.5],[-75.3,-48.5],[-75.3,-50],[-75,-51],[-74.5,-52.5],[-73.5,-53.5],[-72,-54.8],[-70.5,-55],[-69,-55.3],[-74.2,-44.5],[-73.7,-43],[-74.5,-49],[-73,-53],[-71,-54.5],[-74.5,-51.5],
	[5.5,62],[7,63.5],[9,64],[11,65.5],[12.5,66.5],[14,67.5],[15,68.5],[17,69.3],[19,70],[21,70.3],[23,70.8],[25.5,71],
	[-52,67],[-53,70],[-54,72.5],[-56,74],[-21,70],[-23,71],[-20,74],[-19,77],[-17,79],[-43,60],[-48,61],[-51,63],[-52,65],[-30,68],[-37,66],[-25,69],
	[-75,68],[-70,67],[-65,67.5],[-95,72],[-97,70],[-100,69],[-108,68.5],[-85,72.5],[-88,71],[-84,68.5],[-80,70],[-77,63],[-90,78],[-82,80],[-70,80],[-110,77],[-96,76.5],[-120,76],[-114,78],[-105,79],[-70,62.5],[-65,61.5],[-60,57],[-79,55],[-80,59],
	[60,70],[50,69],[85,74],[90,76],[110,74.5],[113,75],[135,74],[160,70.5],
	[-6.5,56.5],[-7,57.2],[-5.5,56],[-3,59],[-1.2,60.3],[15,56],[18.5,57.5],[22.5,58.5],[10.5,55],
	[25,38],[25.5,37],[26.5,38.5],[24.5,37.5],[26,39],[23.5,39],[27,36.5],[20.7,38.5],[16,43.5],[17,43],[15,44.5],
	[121.5,12],[120,12],[123,12.3],[124.5,11],[121,10],[120.5,6],[122,6],[119,5],[126,10],[125.5,12],[114,10],[115,8],[116,9],[112,16],[117,11],
	[120,-6.5],[122,-9.6],[124,-8],[128,-7.5],[131,-8],[134,-6],[130,-1],[127,-3],[126,-2],[124,-2],[122,-5.5],[98,1],[99,-1],[100,-2.8],[108,-3],[117,-7],[118.5,-9.5],
	[155,-6],[156,-7],[159,-8.5],[162,-10.5],[167,-17],[168,-18],[169,-19],[167.5,-14],[152,-10],[154,-11.5],[147,-2],
	[138,9.5],[145,15],[145.7,18],[150,7.5],[152,7],[155,6],[162.5,5],[168,9],[170,11],[172,2],[176,-1.5],
	[-170,-19],[-172,-17],[-178,-20],[-176,-18],[-160,-21],[-152,-17],[-146,-15],[-142,-15],[-139,-10],[-135,-23],[-130,-24],[-158,-9],[-172,-10],[-169,-14],[-165,-11],[-150,-1],[-155,-5],[-160,5],[-175,0],
	[72.5,-7],[72.7,-5.5],[73,1],[73.5,7],[72.5,10.5],[73,11.5],[96.8,-12],[105.6,-10.5],[63,-19.7],[46.5,-9.5],[47.5,-11],[51,-9.5],[53,-7],[55.5,-16],[40.5,-22],[42.7,-17],[70,-49],
	[-59.5,13],[-61,14.5],[-61.5,16],[-62.5,17.5],[-63,18],[-24,15.5],[-5.7,-16],[-14.3,-8],[-16.5,32.7],[-32,-4],[-37,-54.3],[-64.7,32.3],[-70,12.5],[-69,12],[-75,22.5],[-74,21.5],[-73,21],[-72,21.7],[-57,-51.5],[-59,-51.8],[-60,-52],
	[8.7,3.5],[7,1],[6.6,0.2],[5.6,-1.4],[-176,52],[-172,52.5],[-168,53.5],[-165,54],[-170,57],[-172,63.5],[-166,53.5],
	[149,46],[150,46.5],[154,48],[155,49],[130,28],[129,29],[139.5,33],[142,27],[-14,28.5],[-25.5,37.7],[-31,39.5]
];

coastSpecks.forEach(function (p) {
	var x = p[0], y = p[1], r = 0.3;
	outlines["Specks"].push((x - r) + "," + y + " " + x + "," + (y + r) + " " + (x + r) + "," + y + " " + x + "," + (y - r));
});

// geojson for the map, built from the outlines above
function parseRing(text) {
	var ring = text.split(" ").map(function (p) {
		var xy = p.split(",");
		return [+xy[0], +xy[1]];
	});
	ring.push(ring[0]);
	return ring;
}

var features = [];
for (var name in outlines) {
	features.push({
		type: "Feature",
		properties: { name: name },
		geometry: {
			type: "MultiPolygon",
			coordinates: outlines[name].map(function (r) { return [parseRing(r)]; })
		}
	});
}
// one map name per panel, series on the same map get merged by echarts
echarts.registerMap("worldA", { type: "FeatureCollection", features: features });
echarts.registerMap("worldB", { type: "FeatureCollection", features: features });

var TEXT = "#231815";
var FONT = "Liberation Sans";
var panelTop = [10, 806];
var titleY = [680, 1475];
var titleX = [846, 923];

// legend layout
var boxW = 53, boxH = 53;
var asmrBoxX = [272, 387, 502, 616, 731, 846, 960, 1080, 1206, 1332];
var asmrTextX = [333, 447, 562, 675, 790, 905, 1017, 1137, 1269, 1395];
var asdrBoxX = [194, 314, 439, 567, 695, 833, 970, 1106, 1243, 1380];
var asdrTextX = [250, 370, 496, 621, 750, 887, 1023, 1159, 1298, 1436];

function legendItems(labels, colors, boxX, textX, y) {
	var items = [];
	labels.forEach(function (label, i) {
		items.push({
			type: "rect",
			shape: { x: boxX[i], y: y, width: boxW, height: boxH },
			style: { fill: colors[i], stroke: "#5e5e5e", lineWidth: 3 }
		});
		items.push({
			type: "text",
			style: { x: textX[i], y: y + boxH / 2 + 1.5, text: label, fill: "#2b2b2b", font: "20.5px '" + FONT + "'", textVerticalAlign: "middle" }
		});
	});
	return items;
}

function mapSeries(mapName, data, top) {
	return {
		type: "map",
		map: mapName,
		boundingCoords: [[-180, 83.64], [180, -56]],
		left: 53,
		top: top,
		width: 1591,
		height: 635,
		silent: true,
		selectedMode: false,
		label: { show: false },
		emphasis: { disabled: true },
		itemStyle: { areaColor: "#fff", borderColor: "#3d3d3d", borderWidth: 1 },
		data: data
	};
}

function toData(classes) {
	var data = countries.map(function (c, i) {
		return { name: c, value: classes[i] };
	});
	// the specks sit one past the last legend class
	data.push({ name: "Specks", value: classes.length ? 10 : 10 });
	return data;
}

function pieces(colors) {
	return colors.concat(speckColor).map(function (c, i) {
		return { value: i, color: c };
	});
}

var option = {
	animation: false,
	backgroundColor: "#fff",
	title: [
		{ text: "A", left: 8, top: 12, textStyle: { fontFamily: FONT, fontSize: 35, fontWeight: "bold", color: TEXT } },
		{ text: "B", left: 8, top: 798, textStyle: { fontFamily: FONT, fontSize: 35, fontWeight: "bold", color: TEXT } },
		{ text: "High BMI-attributable CKD ASMR in 2021 (per 100,000)", left: titleX[0], top: titleY[0], textAlign: "center", textVerticalAlign: "middle", padding: 0, textStyle: { fontFamily: FONT, fontSize: 30.3, fontWeight: "bold", color: TEXT } },
		{ text: "High BMI-attributable CKD ASDR in 2021 (per 100,000)", left: titleX[1], top: titleY[1], textAlign: "center", textVerticalAlign: "middle", padding: 0, textStyle: { fontFamily: FONT, fontSize: 30.3, fontWeight: "bold", color: TEXT } }
	],
	visualMap: [
		{ type: "piecewise", show: false, seriesIndex: 0, pieces: pieces(asmrColors) },
		{ type: "piecewise", show: false, seriesIndex: 1, pieces: pieces(asdrColors) }
	],
	series: [
		mapSeries("worldA", toData(asmrClass), panelTop[0]),
		mapSeries("worldB", toData(asdrClass), panelTop[1])
	],
	graphic: legendItems(asmrLabels, asmrColors, asmrBoxX, asmrTextX, 709)
		.concat(legendItems(asdrLabels, asdrColors, asdrBoxX, asdrTextX, 1505))
};

var myChart = echarts.init(document.getElementById("chart"), null, { renderer: "canvas" });
myChart.setOption(option);
</script>
</body>
</html>
